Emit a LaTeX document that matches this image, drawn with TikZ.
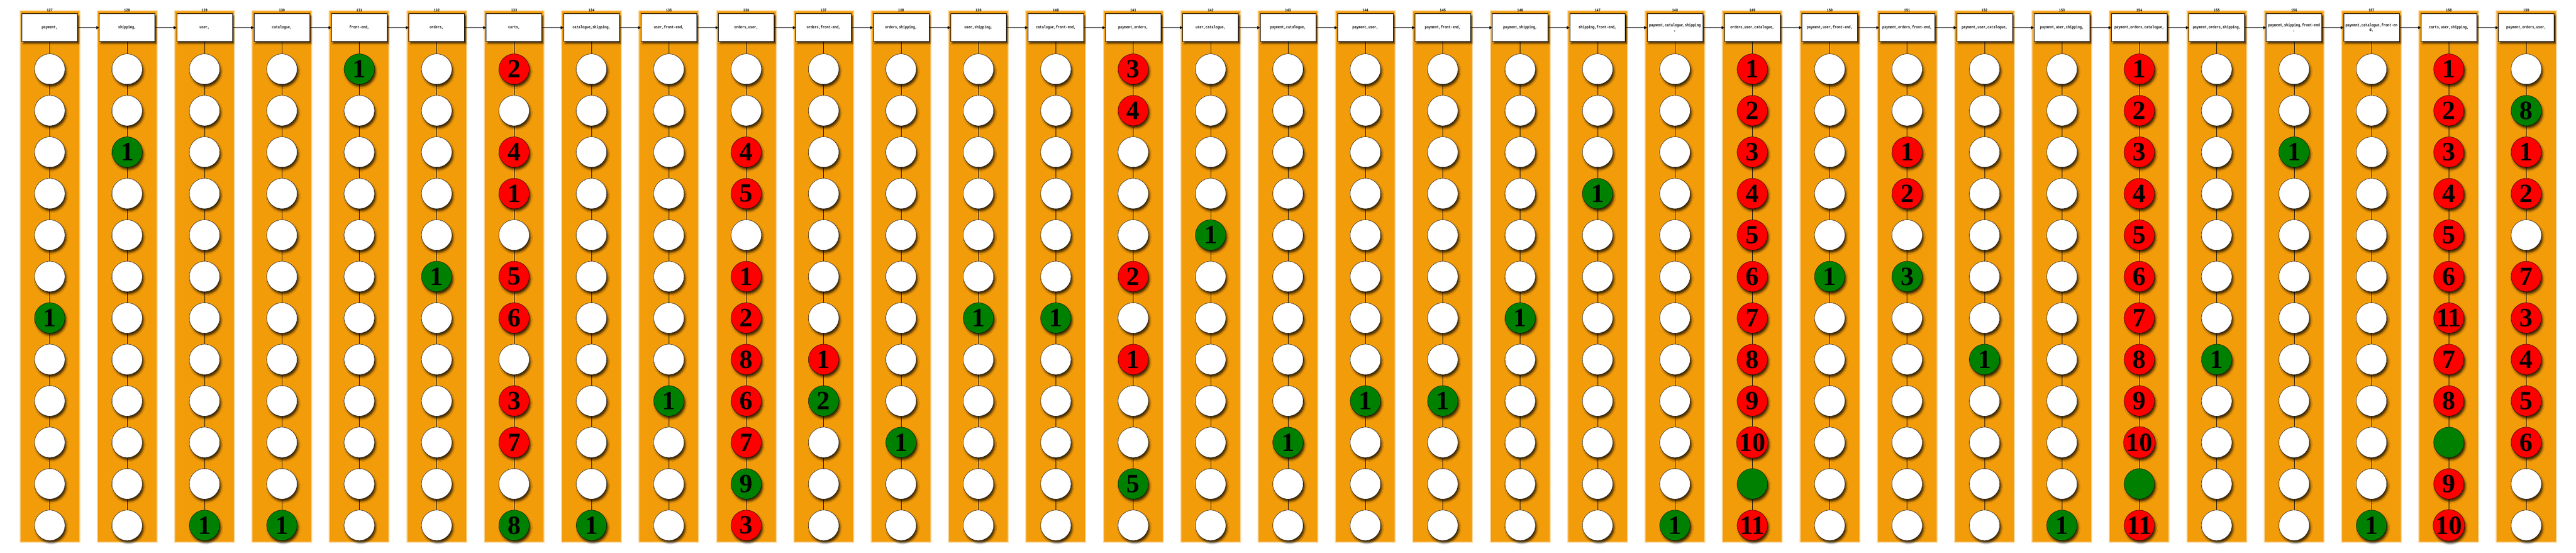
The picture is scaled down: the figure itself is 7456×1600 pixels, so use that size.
\documentclass[tikz,border=0pt]{standalone}
\usepackage{fontspec}
\newfontfamily\svcfont[FakeStretch=0.8]{Liberation Mono}
\newfontfamily\numfont{Liberation Serif}
\usetikzlibrary{arrows.meta,positioning,shadows.blur}
\definecolor{stripe}{HTML}{F39C0A}
\definecolor{okgreen}{HTML}{008000}
\definecolor{failred}{HTML}{FF0000}
\newcommand\splitcell[1]{\expandafter\splitcellx#1\relax}
\def\splitcellx#1#2\relax{\def\cellnum{#2}%
  \if#1g\def\cellfill{okgreen}\else\if#1r\def\cellfill{failred}\else\def\cellfill{white}\fi\fi}

\begin{document}
\begin{tikzpicture}[x=1pt,y=-1pt,
  strip/.style={fill=stripe,preaction={draw=stripe,line width=6pt,opacity=.4}},
  stage/.style={draw,line width=1.2pt,fill=white,minimum width=161pt,minimum height=80pt,
    inner sep=0pt,align=center,font=\svcfont\bfseries\fontsize{12}{14}\selectfont,
    blur shadow={shadow xshift=4pt,shadow yshift=-6pt,shadow blur radius=4pt,shadow opacity=70}},
  tag/.style={inner sep=0pt,font=\svcfont\bfseries\fontsize{12}{14}\selectfont},
  cell/.style={circle,draw,line width=.8pt,minimum size=88pt,inner sep=0pt,
    font=\numfont\bfseries\fontsize{76}{76}\selectfont,
    blur shadow={shadow xshift=4pt,shadow yshift=-7pt,shadow blur radius=5pt,shadow opacity=70}},
  link/.style={line width=.8pt},
  to/.style={-{Triangle[length=8pt,width=9pt]},line width=1pt}]

  \useasboundingbox (0,0) rectangle (7456,1600);

  \foreach \id/\svc/\cells [count=\k from 0] in {
    127/{payment,}/{0,0,0,0,0,0,g1,0,0,0,0,0},
    128/{shipping,}/{0,0,g1,0,0,0,0,0,0,0,0,0},
    129/{user,}/{0,0,0,0,0,0,0,0,0,0,0,g1},
    130/{catalogue,}/{0,0,0,0,0,0,0,0,0,0,0,g1},
    131/{front-end,}/{g1,0,0,0,0,0,0,0,0,0,0,0},
    132/{orders,}/{0,0,0,0,0,g1,0,0,0,0,0,0},
    133/{carts,}/{r2,0,r4,r1,0,r5,r6,0,r3,r7,0,g8},
    134/{catalogue,shipping,}/{0,0,0,0,0,0,0,0,0,0,0,g1},
    135/{user,front-end,}/{0,0,0,0,0,0,0,0,g1,0,0,0},
    136/{orders,user,}/{0,0,r4,r5,0,r1,r2,r8,r6,r7,g9,r3},
    137/{orders,front-end,}/{0,0,0,0,0,0,0,r1,g2,0,0,0},
    138/{orders,shipping,}/{0,0,0,0,0,0,0,0,0,g1,0,0},
    139/{user,shipping,}/{0,0,0,0,0,0,g1,0,0,0,0,0},
    140/{catalogue,front-end,}/{0,0,0,0,0,0,g1,0,0,0,0,0},
    141/{payment,orders,}/{r3,r4,0,0,0,r2,0,r1,0,0,g5,0},
    142/{user,catalogue,}/{0,0,0,0,g1,0,0,0,0,0,0,0},
    143/{payment,catalogue,}/{0,0,0,0,0,0,0,0,0,g1,0,0},
    144/{payment,user,}/{0,0,0,0,0,0,0,0,g1,0,0,0},
    145/{payment,front-end,}/{0,0,0,0,0,0,0,0,g1,0,0,0},
    146/{payment,shipping,}/{0,0,0,0,0,0,g1,0,0,0,0,0},
    147/{shipping,front-end,}/{0,0,0,g1,0,0,0,0,0,0,0,0},
    148/{payment,catalogue,shipping\\,}/{0,0,0,0,0,0,0,0,0,0,0,g1},
    149/{orders,user,catalogue,}/{r1,r2,r3,r4,r5,r6,r7,r8,r9,r10,g,r11},
    150/{payment,user,front-end,}/{0,0,0,0,0,g1,0,0,0,0,0,0},
    151/{payment,orders,front-end,}/{0,0,r1,r2,0,g3,0,0,0,0,0,0},
    152/{payment,user,catalogue,}/{0,0,0,0,0,0,0,g1,0,0,0,0},
    153/{payment,user,shipping,}/{0,0,0,0,0,0,0,0,0,0,0,g1},
    154/{payment,orders,catalogue,}/{r1,r2,r3,r4,r5,r6,r7,r8,r9,r10,g,r11},
    155/{payment,orders,shipping,}/{0,0,0,0,0,0,0,g1,0,0,0,0},
    156/{payment,shipping,front-end\\,}/{0,0,g1,0,0,0,0,0,0,0,0,0},
    157/{payment,catalogue,front-en\\d,}/{0,0,0,0,0,0,0,0,0,0,0,g1},
    158/{carts,user,shipping,}/{r1,r2,r3,r4,r5,r6,r11,r7,r8,g,r9,r10},
    159/{payment,orders,user,}/{0,g8,r1,r2,0,r7,r3,r4,r5,r6,0,0}} {
    \pgfmathsetmacro\x{144+224*\k}
    \pgfmathtruncatemacro\prev{\id-1}
    \fill[strip] (\x-85,33) rectangle (\x+85,1567);
    \node[stage] (b\id) at (\x,80) {\svc};
    \node[tag,above=5pt of b\id] (t\id) {\id};
    \foreach \cl [count=\r] in \cells {
      \splitcell\cl
      \node[cell,fill=\cellfill] (c\id-\r) at (\x,80+120*\r) {\cellnum};
    }
    \draw[link] (b\id) -- (c\id-1);
    \foreach \r [remember=\r as \q (initially 1)] in {2,...,12}
      \draw[link] (c\id-\q) -- (c\id-\r);
    \ifnum\k>0 \draw[to] (b\prev) -- (b\id); \fi
  }
\end{tikzpicture}
\end{document}
